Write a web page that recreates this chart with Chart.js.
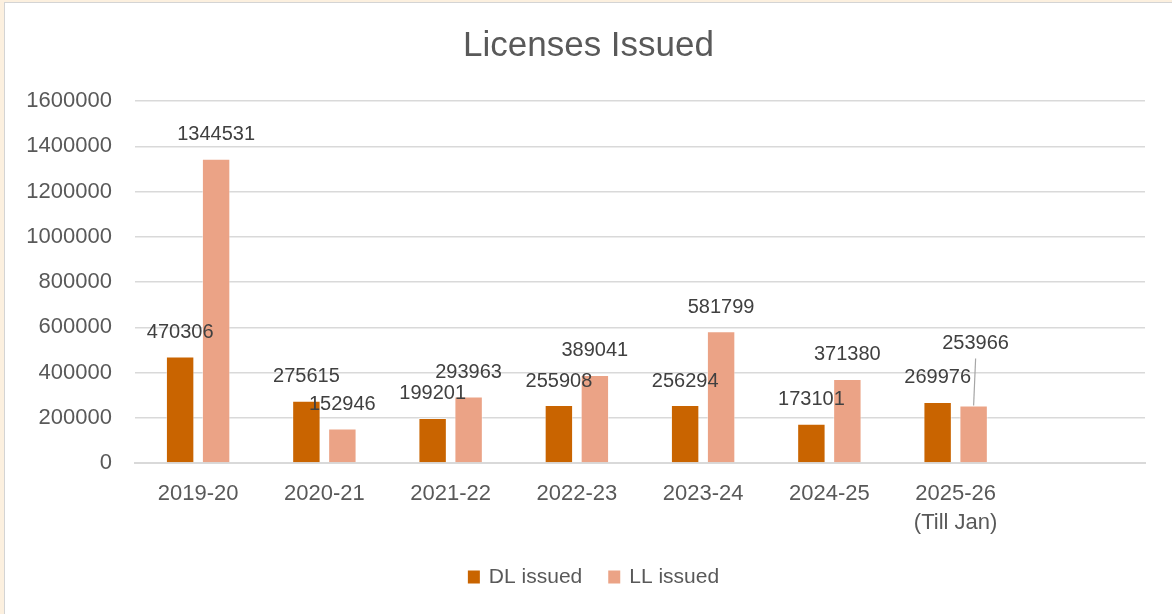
<!DOCTYPE html>
<html>
<head>
<meta charset="utf-8">
<script src="https://cdn.jsdelivr.net/npm/chart.js@4.4.1/dist/chart.umd.min.js"></script>
<style>
  html, body { margin: 0; padding: 0; background: #fcf0df; overflow: hidden; }
  #frame {
    position: absolute; left: 4px; top: 2px; width: 1167px; height: 611px;
    background: #fff; border-left: 1px solid #d4d4d4; border-top: 1px solid #d4d4d4;
  }
  #licChart { display: block; }
</style>
</head>
<body>
<div id="frame"><canvas id="licChart" width="1167" height="611"></canvas></div>
<script>
// data
const years = ["2019-20", "2020-21", "2021-22", "2022-23", "2023-24", "2024-25", ["2025-26", "(Till Jan)"], ""];
const dlIssued = [470306, 275615, 199201, 255908, 256294, 173101, 269976];
const llIssued = [1344531, 152946, 293963, 389041, 581799, 371380, 253966];
const yTicks = [0, 200000, 400000, 600000, 800000, 1000000, 1200000, 1400000, 1600000];

const chartTitle = "Licenses Issued";
const dlColor = "#c96400";
const llColor = "#eba386";
const textColor = "#595959";
const baseFont = "'Liberation Sans', Arial, sans-serif";

// label on the last LL bar is pulled up with a leader line, like in the original
const callout = { dataset: 1, index: 6, lift: 38 };

const valueLabels = {
    id: 'valueLabels',
    afterDatasetsDraw(chart) {
        const ctx = chart.ctx;
        ctx.save();
        ctx.font = "20px " + baseFont;
        ctx.fillStyle = "#404040";
        ctx.textAlign = "center";
        ctx.textBaseline = "middle";
        chart.data.datasets.forEach((ds, di) => {
            const meta = chart.getDatasetMeta(di);
            meta.data.forEach((bar, i) => {
                if (ds.data[i] == null) return;
                let x = bar.x;
                let y = bar.y - 24;
                if (di === callout.dataset && i === callout.index) {
                    x += 2;
                    y -= callout.lift;
                    ctx.strokeStyle = "#a6a6a6";
                    ctx.lineWidth = 1.2;
                    ctx.beginPath();
                    ctx.moveTo(x, y + 15);
                    ctx.lineTo(bar.x, bar.y);
                    ctx.stroke();
                }
                ctx.fillText(String(ds.data[i]), x, y);
            });
        });
        ctx.restore();
    }
};

// title and legend are centred on the whole canvas, not on the plot
const centredTitle = {
    id: 'centredTitle',
    afterDraw(chart) {
        const ctx = chart.ctx;
        ctx.save();
        ctx.font = "35px " + baseFont;
        ctx.fillStyle = textColor;
        ctx.textAlign = "center";
        ctx.textBaseline = "middle";
        ctx.fillText(chartTitle, chart.width / 2, 43);
        ctx.restore();
    }
};

const bottomLegend = {
    id: 'bottomLegend',
    afterDraw(chart) {
        const ctx = chart.ctx;
        ctx.save();
        ctx.font = "21px " + baseFont;
        ctx.textBaseline = "middle";
        const items = chart.data.datasets.map(ds => ({ text: ds.label, color: ds.backgroundColor }));
        const boxW = 12, boxH = 13, gap = 9, itemGap = 26;
        let total = 0;
        items.forEach((it, k) => {
            total += boxW + gap + ctx.measureText(it.text).width + (k ? itemGap : 0);
        });
        let x = chart.width / 2 + 5 - total / 2;
        const y = 574;
        items.forEach((it) => {
            ctx.fillStyle = it.color;
            ctx.fillRect(x, y - boxH / 2, boxW, boxH);
            x += boxW + gap;
            ctx.fillStyle = textColor;
            ctx.fillText(it.text, x, y);
            x += ctx.measureText(it.text).width + itemGap;
        });
        ctx.restore();
    }
};

new Chart(document.getElementById('licChart'), {
    type: 'bar',
    data: {
        labels: years,
        datasets: [
            {
                label: "DL issued",
                data: dlIssued,
                backgroundColor: dlColor,
                borderColor: "rgba(255,255,255,0.45)",
                borderWidth: 1,
                categoryPercentage: 0.57,
                barPercentage: 0.79
            },
            {
                label: "LL issued",
                data: llIssued,
                backgroundColor: llColor,
                borderColor: "rgba(255,255,255,0.45)",
                borderWidth: 1,
                categoryPercentage: 0.57,
                barPercentage: 0.79
            }
        ]
    },
    options: {
        responsive: false,
        animation: false,
        layout: { padding: { left: 0, right: 27, top: 98, bottom: 71 } },
        plugins: {
            title: { display: false },
            legend: { display: false },
            tooltip: { enabled: false }
        },
        scales: {
            x: {
                grid: { display: false, drawTicks: false },
                border: { display: true, color: "#d9d9d9", width: 2 },
                ticks: {
                    color: textColor,
                    padding: 17,
                    maxRotation: 0,
                    autoSkip: false,
                    font: { family: baseFont, size: 22, lineHeight: 1.3 }
                },
                afterFit(axis) { axis.height = 80; }
            },
            y: {
                min: 0,
                max: 1600000,
                afterBuildTicks(axis) { axis.ticks = yTicks.map(v => ({ value: v })); },
                grid: { color: "#d9d9d9", lineWidth: 1.5, drawTicks: false },
                border: { display: false },
                ticks: {
                    color: textColor,
                    padding: 23,
                    font: { family: baseFont, size: 22 },
                    callback: (v) => String(v)
                },
                afterFit(axis) { axis.width = 130; }
            }
        }
    },
    plugins: [valueLabels, centredTitle, bottomLegend]
});
</script>
</body>
</html>
